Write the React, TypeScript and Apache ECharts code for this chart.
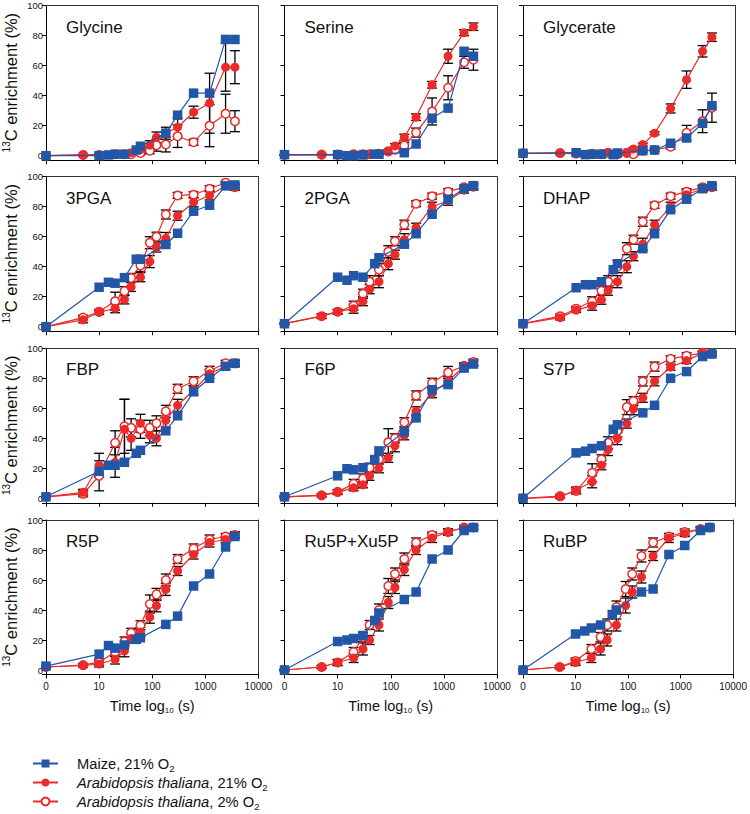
import React, { useEffect, useRef } from 'react';
import * as echarts from 'echarts';

const FONT = "'Liberation Sans', Arial, Helvetica, sans-serif";
const BLUE = '#2256A7';
const RED = '#EC2A2A';

// time points (s); 0 is drawn at the log-axis origin
const MAIZE_T = [0, 10, 15, 20, 30, 50, 60, 180, 300, 600, 1200, 2400, 3600];
const ARA_T = [0, 5, 10, 20, 30, 40, 60, 90, 120, 180, 300, 600, 1200, 2400, 3600];
const X_TICKS = [1, 10, 100, 1000, 10000];
const X_TICK_LABELS = ['0', '10', '100', '1000', '10000'];

const PANEL_NAMES = ['Glycine', 'Serine', 'Glycerate', '3PGA', '2PGA', 'DHAP', 'FBP', 'F6P', 'S7P', 'R5P', 'Ru5P+Xu5P', 'RuBP'];

// Glycine
const glyMaize = [0, 0, 0.5, 1, 1, 3.8, 6.3, 15, 27, 41.7, 41.7, 77.5, 77.5];
const glyA21 = [0, 0.5, 0.5, 1, 1, 2, 4, 7, 12.3, 15, 19, 29, 35, 59, 59];
const glyA2 = [0, 0.5, 0.5, 1, 1, 1, 1.8, 3.3, 7, 7.5, 13, 9, 20, 28, 23];
const glyE21 = [0.3, 0.3, 0.3, 0.5, 0.5, 1, 2, 3, 3.5, 4, 6, 4, 20, 16, 11];
const glyE2 = [0.3, 0.3, 0.3, 0.5, 0.5, 0.8, 1, 2, 4, 5, 7.5, 2, 14, 13, 7];
// Serine
const serMaize = [0.7, 0.7, 0, 0, 0.5, 1, 1, 2, 7.8, 25, 31.7, 69.6, 66.3];
const serA21 = [0.5, 0.5, 0.5, 1, 1, 1, 1.5, 2.5, 6.5, 12.3, 25.7, 47.3, 66.3, 82, 86];
const serA2 = [0.5, 0.7, 0.7, 1, 1, 1, 1.3, 3, 4, 6.7, 15.4, 29.5, 45.3, 62.3, 64];
const serE21 = [0.3, 0.3, 0.3, 0.3, 0.3, 0.5, 0.5, 1, 1.5, 2, 2.2, 2.2, 4.7, 2, 2.5];
const serE2 = [0.3, 0.3, 0.3, 0.3, 0.3, 0.5, 0.5, 1, 1.5, 2, 3, 9, 8, 4, 7];
// Glycerate
const gcaMaize = [1.6, 2, 0.7, 1, 1, 0.7, 1.8, 3.3, 3.8, 8.3, 11.8, 21.6, 33.3];
const gcaA21 = [1.6, 1.5, 1.3, 1.6, 1.4, 2, 1, 1.5, 4.5, 7.4, 15, 31.5, 50.7, 69.6, 79];
const gcaA2 = [1.6, 1.8, 1.5, 1, 1, 2, 1, 2, 1, 3.3, 3.8, 6, 15.2, 23, 32];
const gcaE21 = [0.5, 0.5, 0.5, 0.5, 0.5, 0.5, 0.5, 0.5, 1, 1, 1, 3, 5.8, 3.8, 2.8];
const gcaE2 = [0.5, 0.5, 0.5, 0.5, 0.5, 0.5, 0.5, 0.5, 0.5, 1, 1, 1.5, 5, 7.6, 9.7];
// 3PGA
const pga3Maize = [0, 26.3, 29.6, 29, 32.7, 45, 45, 54.8, 62.3, 77, 81, 93.9, 94.5];
const pga3A21 = [0, 4.6, 9.6, 12.3, 18.2, 26.5, 33, 43.4, 52.8, 58.8, 74, 83, 87.5, 94, 93];
const pga3A2 = [0, 6.1, 10, 17, 23.7, 32.5, 40.8, 56, 60, 74.8, 87.5, 88, 92, 96, 93];
const pga3E21 = [0.5, 2, 1.5, 3, 3, 3, 3, 4, 3, 4, 3, 3, 3, 2, 2];
const pga3E2 = [0.5, 1.5, 1.5, 6, 3, 3, 4, 4, 3, 3, 2, 2, 2, 1, 2];
// 2PGA
const pga2Maize = [2, 33, 31, 34, 33, 42, 46, 55, 62, 75, 85, 92, 94];
const pga2A21 = [2, 7, 10, 12, 17, 25, 30, 42, 48, 58, 66, 80, 84, 91, 93];
const pga2A2 = [2, 7, 10, 14, 22, 30, 38, 50, 57, 68, 82, 87, 90, 93, 94];
const pga2E21 = [0.5, 1.5, 1.5, 3, 3, 3, 4, 4, 3, 4, 3, 3, 3, 2, 2];
const pga2E2 = [0.5, 1.5, 1.5, 3, 3, 4, 4, 4, 3, 3, 2, 2, 2, 1, 2];
// DHAP
const dhapMaize = [2, 26, 28, 28, 30, 38, 42, 52, 62, 78, 85, 92, 94];
const dhapA21 = [2, 6, 11, 14, 18, 24, 30, 40, 47, 55, 68, 80, 88, 92, 93];
const dhapA2 = [2, 7, 12, 17, 24, 30, 40, 52, 58, 70, 81, 87, 90, 93, 93];
const dhapE21 = [0.5, 1.5, 1.5, 3, 3, 3, 4, 4, 3, 4, 3, 3, 3, 2, 2];
const dhapE2 = [0.5, 1.5, 1.5, 3, 3, 4, 4, 4, 3, 3, 2, 2, 2, 1, 2];
// FBP
const fbpMaize = [1, 18, 22, 22, 24, 30, 32, 45, 55, 71, 80, 88, 90];
const fbpA21 = [1, 4, 22, 24, 46, 40, 50, 42, 40, 52, 62, 72, 83, 88, 90];
const fbpA2 = [1, 3, 15, 37, 48, 47, 46, 47, 50, 58, 73, 78, 85, 90, 90];
const fbpE21 = [0.5, 2, 8, 10, 20, 8, 6, 5, 5, 5, 4, 3, 3, 2, 2];
const fbpE2 = [0.5, 2, 10, 8, 18, 6, 6, 5, 5, 4, 3, 3, 3, 2, 2];
// F6P
const f6pMaize = [1, 15, 19.7, 19, 20.4, 25.8, 31.6, 44.4, 53.6, 72.4, 75.8, 86.8, 89.5];
const f6pA21 = [1, 2, 4, 7, 9, 15, 20, 27, 35, 42, 58, 70, 78, 88, 90];
const f6pA2 = [1, 2, 4.3, 9.6, 13.2, 20.4, 26, 37.4, 40, 50.7, 68.6, 77, 83.9, 88.3, 90.8];
const f6pE21 = [0.5, 1, 1.5, 2, 2, 3, 3, 3, 4, 3, 3, 3, 3, 2, 2];
const f6pE2 = [0.5, 1, 1.5, 3, 3, 3, 3, 9, 3, 3, 3, 3, 4, 2, 2];
// S7P
const s7pMaize = [0, 30.3, 31.4, 33.2, 35, 46, 49, 57, 62, 80, 84.5, 94.5, 96.2];
const s7pA21 = [0, 1, 5.5, 11, 22, 32.5, 39.8, 49.8, 59.7, 67, 78, 87.4, 91.8, 96.7, 96.2];
const s7pA2 = [0, 1.5, 4.9, 17, 26, 37, 45, 60.8, 64.8, 77.9, 87.8, 93, 95, 97, 96.7];
const s7pE21 = [0.5, 1, 2, 4, 3, 4, 4, 3, 4, 3, 3, 2, 2, 1.5, 1.5];
const s7pE2 = [0.5, 1, 2, 6, 3, 4, 4, 5, 3, 3, 3, 2, 2, 1, 1];
// R5P
const r5pMaize = [2.6, 10.6, 16.3, 14.6, 16.7, 20.4, 21.5, 30.4, 35.9, 56, 64, 82, 89];
const r5pA21 = [2, 3, 4, 7, 12.8, 21, 25.4, 35.2, 42.8, 53.7, 66, 77, 85, 87, 90];
const r5pA2 = [2, 3.3, 5.2, 12, 19, 24.8, 29.8, 44, 50.4, 60, 74, 81, 87, 89, 90];
const r5pE21 = [0.5, 1, 2, 3, 4, 3, 3, 4, 4, 4, 3, 3, 3, 2, 2];
const r5pE2 = [0.5, 1, 2, 3, 3, 3, 3, 6, 4, 4, 3, 3, 3, 2, 2];
// Ru5P+Xu5P
const ru5pMaize = [0, 19, 20, 21, 23, 33, 38, 47, 52, 74, 80, 93, 95];
const ru5pA21 = [0, 2, 5, 8, 14, 20, 30, 45, 55, 67, 80, 88, 92, 95, 95];
const ru5pA2 = [0, 2, 5, 12, 22, 30, 40, 56, 64, 74, 85, 90, 92, 95, 95];
const ru5pE21 = [0.5, 1, 2, 3, 4, 3, 4, 4, 4, 4, 3, 3, 2, 1.5, 1.5];
const ru5pE2 = [0.5, 1, 2, 3, 3, 3, 4, 5, 4, 4, 3, 2, 2, 1, 1];
// RuBP
const rubpMaize = [0, 24, 26, 28, 30, 37, 40, 52, 54, 77, 83, 93, 95];
const rubpA21 = [0, 2, 5, 8, 14, 20, 30, 43, 52, 62, 76, 88, 91, 94, 95];
const rubpA2 = [0, 2, 6, 14, 22, 30, 42, 54, 64, 76, 85, 89, 92, 94, 95];
const rubpE21 = [0.5, 1, 2, 3, 4, 4, 4, 5, 4, 4, 3, 3, 2, 1.5, 1.5];
const rubpE2 = [0.5, 1, 2, 3, 3, 4, 4, 5, 4, 4, 3, 2, 2, 1, 1];

const PANELS = [
  [glyMaize, glyA21, glyA2, glyE21, glyE2],
  [serMaize, serA21, serA2, serE21, serE2],
  [gcaMaize, gcaA21, gcaA2, gcaE21, gcaE2],
  [pga3Maize, pga3A21, pga3A2, pga3E21, pga3E2],
  [pga2Maize, pga2A21, pga2A2, pga2E21, pga2E2],
  [dhapMaize, dhapA21, dhapA2, dhapE21, dhapE2],
  [fbpMaize, fbpA21, fbpA2, fbpE21, fbpE2],
  [f6pMaize, f6pA21, f6pA2, f6pE21, f6pE2],
  [s7pMaize, s7pA21, s7pA2, s7pE21, s7pE2],
  [r5pMaize, r5pA21, r5pA2, r5pE21, r5pE2],
  [ru5pMaize, ru5pA21, ru5pA2, ru5pE21, ru5pE2],
  [rubpMaize, rubpA21, rubpA2, rubpE21, rubpE2],
];

const COL_LEFT = [46, 284.5, 523];
const COL_W = 212.5;
const ROW_TOP = [5.7, 176.7, 348.3, 520];
const ROW_H = 154.5;

const tx = (t: number) => (t === 0 ? 1 : t);

function buildOption() {
  const grid: any[] = [];
  const xAxis: any[] = [];
  const yAxis: any[] = [];
  const series: any[] = [];
  const title: any[] = [];
  const graphic: any[] = [];

  ROW_TOP.forEach((top) => {
    graphic.push({
      type: 'text',
      x: 10.5,
      y: top + 77,
      rotation: Math.PI / 2,
      silent: true,
      style: {
        text: '{sup|13}{n|C enrichment (%)}',
        fontFamily: FONT,
        fontSize: 16.5,
        fill: '#111',
        align: 'center',
        verticalAlign: 'middle',
        rich: {
          n: { fontFamily: FONT, fontSize: 16.5, fill: '#111', lineHeight: 19 },
          sup: { fontFamily: FONT, fontSize: 10, fill: '#111', lineHeight: 10, padding: [0, 0, 9, 0] },
        },
      },
    });
  });

  PANEL_NAMES.forEach((name, i) => {
    const col = i % 3;
    const row = Math.floor(i / 3);
    const left = COL_LEFT[col];
    const top = ROW_TOP[row];
    grid.push({ left, top, width: COL_W, height: ROW_H, containLabel: false });
    title.push({
      text: name,
      left: left + 20,
      top: top + 13,
      padding: 0,
      textStyle: { fontFamily: FONT, fontSize: 17, fontWeight: 'normal', color: '#111' },
    });
    xAxis.push({
      gridIndex: i,
      type: 'log',
      logBase: 10,
      min: 1,
      max: 10000,
      position: 'bottom',
      axisLine: { show: true, onZero: false, lineStyle: { color: '#000', width: 1 } },
      axisTick: { show: true, length: 4, lineStyle: { color: '#000', width: 1 } },
      minorTick: { show: false },
      splitLine: { show: false },
      axisLabel: {
        show: row === 3,
        fontFamily: FONT,
        fontSize: 10,
        color: '#111',
        margin: 7,
        formatter: (v: number) => {
          const k = X_TICKS.indexOf(Math.round(v));
          return k >= 0 ? X_TICK_LABELS[k] : '';
        },
      },
      name: row === 3 ? '{n|Time log}{sub|10}{n| (s)}' : '',
      nameLocation: 'middle',
      nameGap: 22,
      nameTextStyle: {
        fontFamily: FONT,
        fontSize: 14.5,
        color: '#111',
        rich: {
          n: { fontFamily: FONT, fontSize: 14.5, color: '#111', lineHeight: 18 },
          sub: { fontFamily: FONT, fontSize: 8, color: '#111', lineHeight: 9, padding: [10, 0, 0, 0] },
        },
      },
    });
    xAxis.push({
      gridIndex: i,
      type: 'value',
      position: 'top',
      min: 0,
      max: 1,
      axisLine: { show: true, onZero: false, lineStyle: { color: '#333', width: 1 } },
      axisTick: { show: false },
      axisLabel: { show: false },
      splitLine: { show: false },
    });
    yAxis.push({
      gridIndex: i,
      type: 'value',
      min: -3,
      max: 100,
      splitNumber: 5,
      axisLine: { show: true, onZero: false, lineStyle: { color: '#000', width: 1 } },
      axisTick: { show: true, length: 4, lineStyle: { color: '#000', width: 1 } },
      splitLine: { show: false },
      axisLabel: {
        show: col === 0,
        fontFamily: FONT,
        fontSize: 9.5,
        color: '#111',
        margin: 3,
        formatter: (v: number) => (v < 0 ? '' : String(v)),
      },
    });
    yAxis.push({
      gridIndex: i,
      type: 'value',
      position: 'right',
      min: -3,
      max: 100,
      axisLine: { show: true, onZero: false, lineStyle: { color: '#333', width: 1 } },
      axisTick: { show: false },
      axisLabel: { show: false },
      splitLine: { show: false },
    });

    const [maize, a21, a2, e21, e2] = PANELS[i];
    const xi = 2 * i;
    const yi = 2 * i;

    const errSeries = (vals: number[], errs: number[]) => ({
      type: 'custom',
      xAxisIndex: xi,
      yAxisIndex: yi,
      z: 1,
      silent: true,
      clip: false,
      encode: { x: 0, y: 1 },
      data: ARA_T.map((t, k) => [tx(t), vals[k], errs[k]]),
      renderItem: (params: any, api: any) => {
        const x = api.value(0);
        const y = api.value(1);
        const e = api.value(2);
        const p1 = api.coord([x, y + e]);
        const p2 = api.coord([x, y - e]);
        const hw = 5;
        const st = { stroke: '#000', lineWidth: 1.3 };
        return {
          type: 'group',
          children: [
            { type: 'line', shape: { x1: p1[0], y1: p1[1], x2: p2[0], y2: p2[1] }, style: st },
            { type: 'line', shape: { x1: p1[0] - hw, y1: p1[1], x2: p1[0] + hw, y2: p1[1] }, style: st },
            { type: 'line', shape: { x1: p2[0] - hw, y1: p2[1], x2: p2[0] + hw, y2: p2[1] }, style: st },
          ],
        };
      },
    });

    series.push(errSeries(a2, e2));
    series.push(errSeries(a21, e21));
    series.push({
      name: 'ara2',
      type: 'line',
      xAxisIndex: xi,
      yAxisIndex: yi,
      z: 3,
      clip: false,
      symbol: 'circle',
      symbolSize: 8.5,
      itemStyle: { color: '#fff', borderColor: RED, borderWidth: 1.5 },
      lineStyle: { color: RED, width: 1.2 },
      data: ARA_T.map((t, k) => [tx(t), a2[k]]),
    });
    series.push({
      name: 'ara21',
      type: 'line',
      xAxisIndex: xi,
      yAxisIndex: yi,
      z: 3,
      clip: false,
      symbol: 'circle',
      symbolSize: 9,
      itemStyle: { color: RED, borderColor: RED, borderWidth: 0 },
      lineStyle: { color: RED, width: 1.2 },
      data: ARA_T.map((t, k) => [tx(t), a21[k]]),
    });
    series.push({
      name: 'maize',
      type: 'line',
      xAxisIndex: xi,
      yAxisIndex: yi,
      z: 4,
      clip: false,
      symbol: 'rect',
      symbolSize: 9.5,
      itemStyle: { color: BLUE, borderWidth: 0 },
      lineStyle: { color: BLUE, width: 1.2 },
      data: MAIZE_T.map((t, k) => [tx(t), maize[k]]),
    });
  });

  const legendLabels: Record<string, string> = {
    maize: '{sp| }{n|Maize, 21% O}{sub|2}',
    ara21: '{sp| }{i|Arabidopsis thaliana}{n|, 21% O}{sub|2}',
    ara2: '{sp| }{i|Arabidopsis thaliana}{n|, 2% O}{sub|2}',
  };

  return {
    animation: false,
    backgroundColor: '#fff',
    textStyle: { fontFamily: FONT },
    title,
    grid,
    xAxis,
    yAxis,
    series,
    graphic,
    legend: {
      data: ['maize', 'ara21', 'ara2'],
      orient: 'vertical',
      left: 32,
      top: 754,
      height: 60,
      padding: 0,
      itemWidth: 25,
      itemHeight: 10,
      itemGap: 0,
      selectedMode: false,
      formatter: (n: string) => legendLabels[n],
      textStyle: {
        fontFamily: FONT,
        fontSize: 14.7,
        color: '#111',
        rich: {
          sp: { width: 14 },
          n: { fontFamily: FONT, fontSize: 14.7, color: '#111', lineHeight: 18 },
          i: { fontFamily: FONT, fontSize: 14.7, fontStyle: 'italic', color: '#111', lineHeight: 18 },
          sub: { fontFamily: FONT, fontSize: 9.5, color: '#111', lineHeight: 9, padding: [9, 0, 0, 0] },
        },
      },
    },
  };
}

export default function App() {
  const ref = useRef<HTMLDivElement>(null);
  useEffect(() => {
    if (!ref.current) return;
    const chart = echarts.init(ref.current, undefined, { renderer: 'svg' });
    chart.setOption(buildOption() as any);
    return () => chart.dispose();
  }, []);
  return (
    <div
      ref={ref}
      style={{ position: 'absolute', left: 0, top: 0, width: 750, height: 814, background: '#fff' }}
    />
  );
}
